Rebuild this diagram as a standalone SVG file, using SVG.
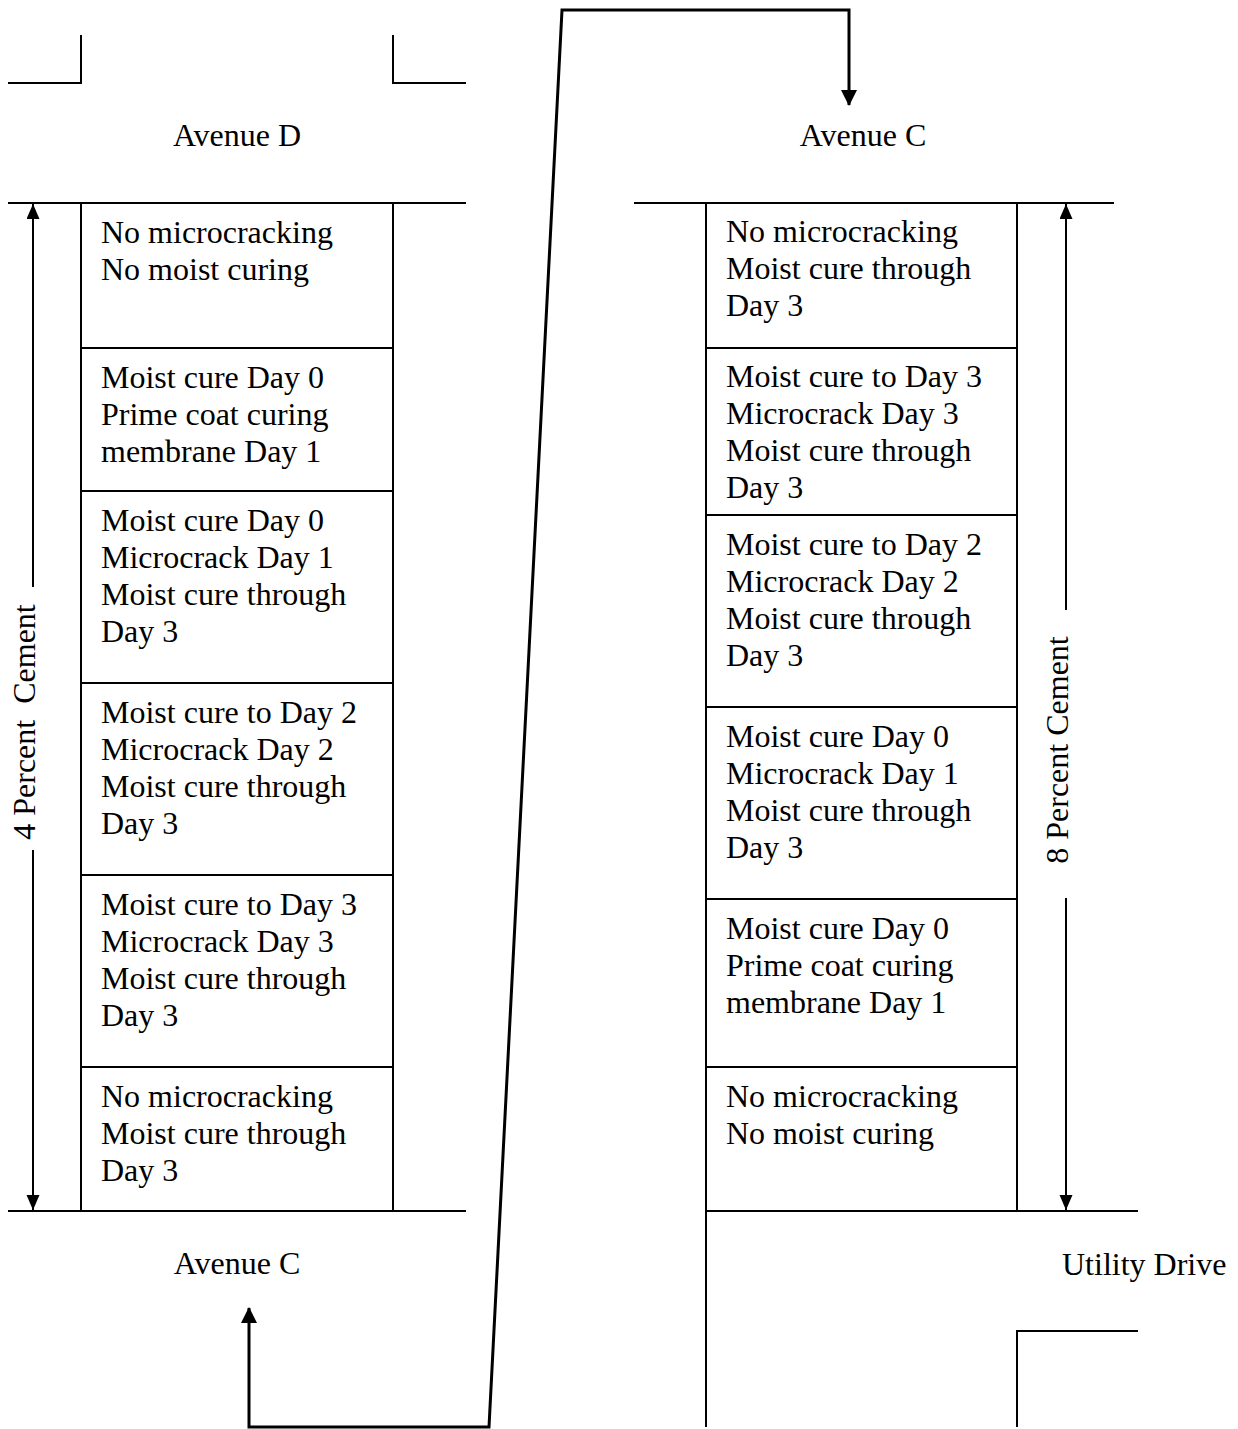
<svg xmlns="http://www.w3.org/2000/svg" width="1238" height="1429" viewBox="0 0 1238 1429">
<style>
  .bg { fill: #ffffff; }
  .box { fill: none; stroke: #000; stroke-width: 2; }
  .street { fill: none; stroke: #000; stroke-width: 2; }
  .dim { fill: none; stroke: #000; stroke-width: 2; }
  .conn { fill: none; stroke: #000; stroke-width: 3; stroke-linejoin: miter; }
  text { font-family: "Liberation Serif", "Times New Roman", serif; font-size: 32px; fill: #000; }
  .mid { text-anchor: middle; }
</style>
<defs>
  <marker id="ah" markerUnits="userSpaceOnUse" markerWidth="17" markerHeight="17" refX="15" refY="8" orient="auto-start-reverse">
    <path d="M0,0 L16,8 L0,16 z" fill="#000"/>
  </marker>
  <marker id="ahs" markerUnits="userSpaceOnUse" markerWidth="16" markerHeight="14" refX="15" refY="6.5" orient="auto">
    <path d="M0,0 L15,6.5 L0,13 z" fill="#000"/>
  </marker>
</defs>
<rect class="bg" x="0" y="0" width="1238" height="1429"/>

<g id="streets">
  <path class="street" d="M8,83 H81 V35"/>
  <path class="street" d="M393,35 V83 H466"/>
  <line class="street" x1="8" y1="203" x2="466" y2="203"/>
  <line class="street" x1="8" y1="1211" x2="466" y2="1211"/>
  <line class="street" x1="634" y1="203" x2="1114" y2="203"/>
  <line class="street" x1="706" y1="1211" x2="1138" y2="1211"/>
  <line class="street" x1="706" y1="1211" x2="706" y2="1427"/>
  <path class="street" d="M1138,1331 H1017 V1427"/>
  <text class="mid" x="237" y="146">Avenue D</text>
  <text class="mid" x="863" y="146">Avenue C</text>
  <text class="mid" x="237" y="1274">Avenue C</text>
  <text x="1062" y="1275">Utility Drive</text>
</g>

<g id="left-col">
  <g id="L1"><rect class="box" x="81" y="203" width="312" height="145"/>
    <text x="101" y="243">No microcracking</text>
    <text x="101" y="280">No moist curing</text></g>
  <g id="L2"><rect class="box" x="81" y="348" width="312" height="143"/>
    <text x="101" y="388">Moist cure Day 0</text>
    <text x="101" y="425">Prime coat curing</text>
    <text x="101" y="462">membrane Day 1</text></g>
  <g id="L3"><rect class="box" x="81" y="491" width="312" height="192"/>
    <text x="101" y="531">Moist cure Day 0</text>
    <text x="101" y="568">Microcrack Day 1</text>
    <text x="101" y="605">Moist cure through</text>
    <text x="101" y="642">Day 3</text></g>
  <g id="L4"><rect class="box" x="81" y="683" width="312" height="192"/>
    <text x="101" y="723">Moist cure to Day 2</text>
    <text x="101" y="760">Microcrack Day 2</text>
    <text x="101" y="797">Moist cure through</text>
    <text x="101" y="834">Day 3</text></g>
  <g id="L5"><rect class="box" x="81" y="875" width="312" height="192"/>
    <text x="101" y="915">Moist cure to Day 3</text>
    <text x="101" y="952">Microcrack Day 3</text>
    <text x="101" y="989">Moist cure through</text>
    <text x="101" y="1026">Day 3</text></g>
  <g id="L6"><rect class="box" x="81" y="1067" width="312" height="144"/>
    <text x="101" y="1107">No microcracking</text>
    <text x="101" y="1144">Moist cure through</text>
    <text x="101" y="1181">Day 3</text></g>
</g>

<g id="right-col">
  <g id="R1"><rect class="box" x="706" y="203" width="311" height="145"/>
    <text x="726" y="242">No microcracking</text>
    <text x="726" y="279">Moist cure through</text>
    <text x="726" y="316">Day 3</text></g>
  <g id="R2"><rect class="box" x="706" y="348" width="311" height="167"/>
    <text x="726" y="387">Moist cure to Day 3</text>
    <text x="726" y="424">Microcrack Day 3</text>
    <text x="726" y="461">Moist cure through</text>
    <text x="726" y="498">Day 3</text></g>
  <g id="R3"><rect class="box" x="706" y="515" width="311" height="192"/>
    <text x="726" y="555">Moist cure to Day 2</text>
    <text x="726" y="592">Microcrack Day 2</text>
    <text x="726" y="629">Moist cure through</text>
    <text x="726" y="666">Day 3</text></g>
  <g id="R4"><rect class="box" x="706" y="707" width="311" height="192"/>
    <text x="726" y="747">Moist cure Day 0</text>
    <text x="726" y="784">Microcrack Day 1</text>
    <text x="726" y="821">Moist cure through</text>
    <text x="726" y="858">Day 3</text></g>
  <g id="R5"><rect class="box" x="706" y="899" width="311" height="168"/>
    <text x="726" y="939">Moist cure Day 0</text>
    <text x="726" y="976">Prime coat curing</text>
    <text x="726" y="1013">membrane Day 1</text></g>
  <g id="R6"><rect class="box" x="706" y="1067" width="311" height="144"/>
    <text x="726" y="1107">No microcracking</text>
    <text x="726" y="1144">No moist curing</text></g>
</g>

<g id="dimensions">
  <line class="dim" x1="33" y1="587" x2="33" y2="204" marker-end="url(#ahs)"/>
  <line class="dim" x1="33" y1="850" x2="33" y2="1210" marker-end="url(#ahs)"/>
  <text class="mid" transform="translate(35,722) rotate(-90)" xml:space="preserve">4 Percent  Cement</text>
  <line class="dim" x1="1066" y1="610" x2="1066" y2="204" marker-end="url(#ahs)"/>
  <line class="dim" x1="1066" y1="898" x2="1066" y2="1210" marker-end="url(#ahs)"/>
  <text class="mid" transform="translate(1068,750) rotate(-90)">8 Percent Cement</text>
</g>

<g id="connectors">
  <path class="conn" d="M249,1308 V1427 H489 L562,10 H849 V105" marker-start="url(#ah)" marker-end="url(#ah)"/>
</g>
</svg>
